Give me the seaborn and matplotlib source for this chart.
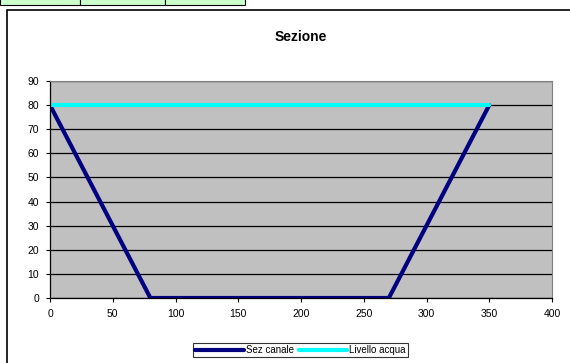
import matplotlib
matplotlib.use("Agg")
import matplotlib.pyplot as plt
import seaborn as sns
import pandas as pd
from matplotlib.patches import Rectangle

# channel cross section (x, y) and water level
sez_x = [0, 80, 270, 350]
sez_y = [80, 0, 0, 80]
livello_x = [0, 350]
livello_y = [80, 80]

x_ticks = [0, 50, 100, 150, 200, 250, 300, 350, 400]
y_ticks = [0, 10, 20, 30, 40, 50, 60, 70, 80, 90]

sns.set_style("white")
plt.rcParams['font.family'] = ['Liberation Sans', 'DejaVu Sans']
plt.rcParams['text.color'] = 'black'
plt.rcParams['xtick.color'] = 'black'
plt.rcParams['ytick.color'] = 'black'

df_sez = pd.DataFrame({"x": sez_x, "y": sez_y})
df_liv = pd.DataFrame({"x": livello_x, "y": livello_y})

fig = plt.figure(figsize=(5.7, 3.63), dpi=100)

# chart frame and the cropped spreadsheet cells at the top
fig.patches.append(Rectangle((7 / 570, -0.1), 1.0, 1 - 10 / 363 + 0.1, transform=fig.transFigure,
                             fill=False, edgecolor="black", linewidth=1.2))
for x0, x1 in [(0, 80), (80, 165), (165, 245)]:
    fig.patches.append(Rectangle((x0 / 570, 1 - 5 / 363), (x1 - x0) / 570, 0.05,
                                 transform=fig.transFigure, facecolor="#ccffcc",
                                 edgecolor="black", linewidth=0.8))

ax = fig.add_axes([50 / 570, 1 - 298 / 363, 502 / 570, 217 / 363])
ax.set_facecolor("#c0c0c0")

sns.lineplot(data=df_sez, x="x", y="y", sort=False, color="#000080", linewidth=3,
             label="Sez canale", ax=ax)
sns.lineplot(data=df_liv, x="x", y="y", sort=False, color="#00ffff", linewidth=3,
             label="Livello acqua", ax=ax)

ax.set_xlim(0, 400)
ax.set_ylim(0, 90)
ax.set_xticks(x_ticks)
ax.set_yticks(y_ticks)
ax.yaxis.grid(True, color="black", linewidth=0.9)
ax.set_axisbelow(True)
ax.tick_params(axis="both", direction="out", length=3, width=0.8, labelsize=7.5,
               bottom=True, left=True, pad=5, colors="black")
for side in ["top", "right"]:
    ax.spines[side].set_color("#808080")
    ax.spines[side].set_linewidth(0.8)
for side in ["bottom", "left"]:
    ax.spines[side].set_color("black")
    ax.spines[side].set_linewidth(0.9)
ax.set_xlabel("")
ax.set_ylabel("")

fig.text(0.527, 1 - 37 / 363, "Sezione", ha="center", va="center",
         fontsize=10, fontweight="bold", color="black")

ax.legend_.remove()
handles, labels = ax.get_legend_handles_labels()
leg = fig.legend(handles, labels, loc="center", bbox_to_anchor=(0.527, 1 - 350 / 363),
                 ncol=2, fontsize=7, frameon=True, fancybox=False, handlelength=5,
                 columnspacing=0.5, handletextpad=0.2, borderpad=0.25, borderaxespad=0)
leg.get_frame().set_edgecolor("black")
leg.get_frame().set_linewidth(0.8)

fig.savefig("out.png", dpi=100)
